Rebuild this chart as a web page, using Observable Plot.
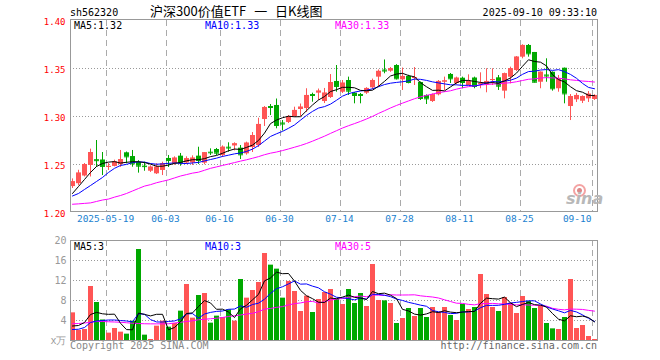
<!DOCTYPE html>
<html><head><meta charset="utf-8">
<script src="https://cdn.jsdelivr.net/npm/d3@7"></script>
<script src="https://cdn.jsdelivr.net/npm/@observablehq/plot@0.6"></script>
<style>
html,body{margin:0;padding:0;background:#fff;}
#wrap{position:relative;width:660px;height:360px;overflow:hidden;}
#wrap svg{position:absolute;left:0;}
</style></head><body><div id="wrap"></div>
<script>
const dates = ["2025-05-09","2025-05-12","2025-05-13","2025-05-14","2025-05-15","2025-05-16","2025-05-19","2025-05-20","2025-05-21","2025-05-22","2025-05-23","2025-05-26","2025-05-27","2025-05-28","2025-05-29","2025-05-30","2025-06-03","2025-06-04","2025-06-05","2025-06-06","2025-06-09","2025-06-10","2025-06-11","2025-06-12","2025-06-13","2025-06-16","2025-06-17","2025-06-18","2025-06-19","2025-06-20","2025-06-23","2025-06-24","2025-06-25","2025-06-26","2025-06-27","2025-06-30","2025-07-01","2025-07-02","2025-07-03","2025-07-04","2025-07-07","2025-07-08","2025-07-09","2025-07-10","2025-07-11","2025-07-14","2025-07-15","2025-07-16","2025-07-17","2025-07-18","2025-07-21","2025-07-22","2025-07-23","2025-07-24","2025-07-25","2025-07-28","2025-07-29","2025-07-30","2025-07-31","2025-08-01","2025-08-04","2025-08-05","2025-08-06","2025-08-07","2025-08-08","2025-08-11","2025-08-12","2025-08-13","2025-08-14","2025-08-15","2025-08-18","2025-08-19","2025-08-20","2025-08-21","2025-08-22","2025-08-25","2025-08-26","2025-08-27","2025-08-28","2025-08-29","2025-09-01","2025-09-02","2025-09-03","2025-09-04","2025-09-05","2025-09-08","2025-09-09","2025-09-10"];

const open = [1.227,1.230,1.238,1.249,1.255,1.2547,1.247,1.248,1.250,1.2622,1.2583,1.2521,1.2483,1.2430,1.2403,1.2438,1.2563,1.2509,1.2587,1.2516,1.2516,1.2587,1.2514,1.2628,1.2656,1.2594,1.2680,1.2693,1.2670,1.2611,1.2677,1.2698,1.2969,1.3104,1.3115,1.2932,1.2938,1.3000,1.3073,1.3083,1.3229,1.3243,1.3156,1.3198,1.3365,1.3253,1.3375,1.3243,1.3229,1.3243,1.3299,1.3410,1.3484,1.3472,1.3531,1.3382,1.3417,1.3396,1.3354,1.3219,1.3156,1.3226,1.3359,1.3438,1.3344,1.3399,1.3323,1.3401,1.3333,1.3330,1.3375,1.3403,1.3264,1.3409,1.3479,1.3618,1.3740,1.3667,1.3357,1.3432,1.3461,1.3289,1.3503,1.3104,1.3174,1.3159,1.3184,1.3177];
const high = [1.235,1.244,1.251,1.266,1.275,1.2625,1.251,1.2545,1.2646,1.263,1.2646,1.254,1.2524,1.2486,1.2507,1.2524,1.2594,1.258,1.2615,1.258,1.259,1.268,1.2625,1.2663,1.2667,1.2694,1.2726,1.2726,1.2698,1.2733,1.2833,1.2982,1.3104,1.3125,1.3182,1.2958,1.3010,1.3097,1.3130,1.3289,1.3243,1.3286,1.3292,1.3437,1.3531,1.3375,1.3410,1.3250,1.3240,1.3300,1.3390,1.3485,1.3589,1.3510,1.3540,1.3505,1.3430,1.3510,1.3360,1.3225,1.3235,1.3375,1.3410,1.3448,1.3410,1.3410,1.3434,1.3410,1.3455,1.3497,1.3497,1.3427,1.3452,1.3514,1.3625,1.3747,1.3750,1.3667,1.3465,1.3601,1.3465,1.3427,1.3505,1.3229,1.3240,1.3215,1.3260,1.3226];
const low = [1.225,1.228,1.237,1.237,1.247,1.2385,1.2438,1.2475,1.247,1.2507,1.2472,1.241,1.243,1.2417,1.2396,1.2385,1.2469,1.2492,1.2482,1.250,1.249,1.250,1.2497,1.2594,1.2594,1.2573,1.2628,1.2642,1.2552,1.2597,1.2625,1.2677,1.2896,1.3010,1.2872,1.2849,1.2927,1.2990,1.3000,1.3042,1.3149,1.3167,1.3135,1.3188,1.3253,1.3240,1.3219,1.3132,1.3132,1.3230,1.3280,1.3305,1.3445,1.3460,1.3380,1.3271,1.3340,1.3323,1.3167,1.3125,1.3146,1.3215,1.3271,1.3344,1.3330,1.3289,1.3320,1.3289,1.3289,1.3247,1.3323,1.3271,1.3184,1.3340,1.3469,1.3601,1.3618,1.3349,1.3289,1.3357,1.3264,1.3253,1.3132,1.2958,1.3146,1.3135,1.3146,1.3167];
const close = [1.232,1.241,1.250,1.2625,1.254,1.248,1.248,1.2526,1.255,1.258,1.2507,1.2483,1.2478,1.2472,1.2472,1.2507,1.2542,1.2566,1.2517,1.256,1.2566,1.2542,1.2622,1.2622,1.2618,1.268,1.2672,1.2715,1.2601,1.2722,1.2802,1.2917,1.3094,1.3094,1.2906,1.2922,1.300,1.3063,1.3097,1.3219,1.3219,1.3264,1.3243,1.3354,1.3313,1.3347,1.3264,1.3219,1.3219,1.3292,1.3375,1.347,1.3474,1.3497,1.3393,1.3417,1.3354,1.3406,1.3188,1.3184,1.3226,1.3365,1.337,1.3393,1.3399,1.3354,1.3365,1.3313,1.3344,1.3365,1.3385,1.3316,1.3445,1.3497,1.3618,1.374,1.3653,1.3357,1.3461,1.3422,1.3289,1.3393,1.3236,1.3208,1.3219,1.3208,1.3232,1.3219];

const ma5 = [1.2198,1.2271,1.2344,1.2417,1.2479,1.2511,1.2525,1.2530,1.2515,1.2523,1.2529,1.2529,1.2520,1.2504,1.2482,1.2482,1.2494,1.2512,1.2521,1.2538,1.2550,1.2550,1.2561,1.2582,1.2594,1.2617,1.2643,1.2661,1.2657,1.2678,1.2702,1.2751,1.2827,1.2926,1.2963,1.2987,1.3003,1.2997,1.2998,1.3060,1.3120,1.3172,1.3208,1.3260,1.3279,1.3304,1.3304,1.3299,1.3272,1.3268,1.3274,1.3315,1.3366,1.3422,1.3442,1.3450,1.3427,1.3413,1.3352,1.3310,1.3272,1.3274,1.3267,1.3308,1.3351,1.3376,1.3376,1.3365,1.3355,1.3348,1.3354,1.3345,1.3371,1.3402,1.3452,1.3523,1.3591,1.3573,1.3566,1.3527,1.3436,1.3384,1.3360,1.3310,1.3269,1.3253,1.3221,1.3217];
const ma10 = [1.2172,1.2198,1.2240,1.2281,1.2323,1.2365,1.2417,1.2460,1.2490,1.2501,1.2520,1.2527,1.2525,1.2510,1.2503,1.2506,1.2512,1.2516,1.2512,1.2510,1.2516,1.2522,1.2537,1.2552,1.2566,1.2584,1.2597,1.2611,1.2620,1.2636,1.2660,1.2697,1.2744,1.2792,1.2820,1.2845,1.2877,1.2912,1.2962,1.3011,1.3053,1.3088,1.3103,1.3129,1.3169,1.3212,1.3238,1.3254,1.3266,1.3273,1.3289,1.3310,1.3333,1.3347,1.3355,1.3362,1.3371,1.3390,1.3387,1.3376,1.3361,1.3350,1.3340,1.3330,1.3330,1.3324,1.3325,1.3316,1.3331,1.3349,1.3365,1.3360,1.3368,1.3378,1.3400,1.3439,1.3468,1.3472,1.3484,1.3489,1.3480,1.3488,1.3467,1.3438,1.3398,1.3345,1.3303,1.3289];
const ma30 = [1.2086,1.2090,1.2095,1.2100,1.2115,1.2130,1.2140,1.2160,1.2177,1.2198,1.2224,1.2250,1.2275,1.2290,1.2310,1.2325,1.2340,1.2360,1.2380,1.2395,1.2410,1.2420,1.2440,1.2460,1.2475,1.2490,1.2505,1.2520,1.2535,1.2549,1.2565,1.2582,1.2602,1.2618,1.2630,1.2645,1.2662,1.2680,1.2698,1.2719,1.2743,1.2769,1.2795,1.2824,1.2852,1.2880,1.2904,1.2926,1.2949,1.2974,1.3001,1.3032,1.3060,1.3089,1.3115,1.3139,1.3162,1.3185,1.3205,1.3220,1.3234,1.3249,1.3258,1.3268,1.3285,1.3299,1.3311,1.3320,1.3328,1.3333,1.3338,1.3340,1.3347,1.3352,1.3362,1.3375,1.3388,1.3392,1.3401,1.3405,1.3402,1.3399,1.3392,1.3382,1.3376,1.3369,1.3365,1.3359];

const volume = [5.53,2.0,2.2,10.8,7.6,4.1,1.47,2.4,1.67,1.27,3.87,18.2,1.07,0.2,2.87,3.87,2.67,3.4,5.87,11.2,4.47,9.0,9.4,3.47,4.87,4.6,6.13,3.87,12.2,8.47,10.0,11.6,17.4,15.07,14.27,8.47,11.8,9.8,5.8,8.87,5.6,8.2,9.6,10.2,8.2,7.2,10.2,7.4,9.4,6.8,15.2,8.0,7.93,7.4,3.4,4.4,6.4,4.8,6.4,4.6,6.6,5.6,6.6,5.0,4.0,7.2,6.2,6.6,13.2,9.2,6.6,5.8,8.6,7.47,5.4,8.8,7.8,6.4,7.0,3.4,2.33,2.2,4.6,12.2,2.4,3.0,0.8,0.2];
const vma5 = [2.9,3.0,3.6,5.2,5.63,5.34,5.23,5.27,3.45,2.18,2.14,5.48,5.22,4.92,5.24,5.24,2.14,2.60,3.74,5.40,5.52,6.79,7.99,7.51,6.24,6.27,5.69,4.59,6.33,7.05,8.13,9.23,11.93,12.51,13.67,13.36,13.40,11.88,10.03,8.95,8.37,7.65,7.61,8.49,8.36,8.68,9.08,8.64,8.48,8.20,9.80,9.36,9.47,9.07,8.39,6.23,5.91,5.28,5.08,5.32,5.76,5.60,5.96,5.68,5.56,5.68,5.80,5.80,7.44,8.48,8.36,8.28,8.68,7.53,6.77,7.21,7.61,7.17,7.08,6.68,5.39,4.27,3.91,4.95,4.75,4.88,4.60,3.72];
const vma10 = [2.2,2.25,2.6,3.6,3.9,4.0,4.1,4.1,4.0,3.90,3.74,5.36,5.25,4.19,3.71,3.69,3.81,3.91,4.33,5.32,5.38,4.46,5.30,5.62,5.82,5.90,6.24,6.29,6.92,6.65,7.20,7.46,8.26,9.42,10.36,10.75,11.32,11.91,11.27,11.31,10.87,10.53,9.75,9.26,8.65,8.53,8.37,8.13,8.49,8.28,9.24,9.22,9.05,8.77,8.29,8.01,7.63,7.37,7.07,6.85,5.99,5.75,5.62,5.38,5.44,5.72,5.70,5.88,6.56,7.02,7.02,7.04,7.24,7.49,7.63,7.79,7.95,7.93,7.31,6.73,6.30,5.94,5.54,6.01,5.71,5.13,4.43,3.81];
const vma30 = [3.35,3.40,3.50,3.65,3.80,3.80,3.75,3.70,3.65,3.55,3.45,3.40,3.35,3.33,3.33,3.33,3.35,3.50,3.65,3.80,3.95,4.15,4.25,4.35,4.45,4.60,4.80,4.95,5.10,5.29,5.44,5.76,6.27,6.41,6.63,6.78,7.12,7.37,7.51,7.76,7.82,7.48,7.77,8.10,8.28,8.39,8.64,8.77,8.89,8.75,9.10,9.07,9.02,9.15,9.10,9.10,9.11,9.14,8.94,8.81,8.70,8.50,8.14,7.80,7.46,7.42,7.23,7.13,7.37,7.38,7.42,7.34,7.30,7.21,7.12,7.17,7.09,7.06,6.98,6.87,6.44,6.24,6.13,6.29,6.26,6.21,6.03,5.87];

const tickDates = ["2025-05-19","2025-06-03","2025-06-16","2025-06-30","2025-07-14","2025-07-28","2025-08-11","2025-08-25","2025-09-10"];
const tickLabels = ["2025-05-19","06-03","06-16","06-30","07-14","07-28","08-11","08-25","09-10"];
const priceTicks = [1.20,1.25,1.30,1.35,1.40];
const priceGrid = [1.25,1.30,1.35];
const volTicks = [0,4,8,12,16,20];
const volTickLabels = ["x万","4","8","12","16","20"];
const volGrid = [4,8,12,16];
const priceLegend = ["MA5:1.32","MA10:1.33","MA30:1.33"];
const volLegend = ["MA5:3","MA10:3","MA30:5"];
const headerCode = "sh562320";
const headerTitle = "沪深300价值ETF 一 日K线图";
const headerTime = "2025-09-10 09:33:10";
const footerLeft = "Copyright 2025 SINA.COM";
const footerRight = "http://finance.sina.com.cn";

const UP = "#ff5555", DOWN = "#00a800";
const MONO = "'DejaVu Sans Mono', monospace";
const rows = dates.map((d, i) => ({
  date: d, open: open[i], high: high[i], low: low[i], close: close[i], volume: volume[i],
  ma5: ma5[i], ma10: ma10[i], ma30: ma30[i], vma5: vma5[i], vma10: vma10[i], vma30: vma30[i],
  color: close[i] >= open[i] ? UP : DOWN
}));

const wrap = document.getElementById("wrap");
const xScale = {type: "band", domain: dates, padding: 0, axis: null};
const commonStyle = {fontFamily: MONO, fontSize: "10px", background: "transparent", overflow: "visible"};

const price = Plot.plot({
  width: 660, height: 232,
  marginLeft: 70, marginRight: 62, marginTop: 20, marginBottom: 20,
  x: xScale,
  y: {domain: [1.2, 1.4], axis: null},
  color: {type: "identity"},
  style: commonStyle,
  marks: [
    Plot.ruleY(priceGrid, {y: d => d, stroke: "#999", strokeDasharray: "1,2"}),
    Plot.ruleX(tickDates, {x: d => d, dx: -3, stroke: "#aaa", strokeDasharray: "6,4"}),
    Plot.ruleX(rows, {x: "date", y1: "low", y2: "high", stroke: "color", dx: -1}),
    Plot.barY(rows, {x: "date", y1: "open", y2: "close", fill: "color", insetRight: 1}),
    Plot.tickY(rows, {x: "date", y: "close", stroke: "color", insetRight: 1}),
    Plot.line(rows, {x: "date", y: "ma30", stroke: "#ff00ff", strokeWidth: 1, dx: -1}),
    Plot.line(rows, {x: "date", y: "ma10", stroke: "#0000ff", strokeWidth: 1, dx: -1}),
    Plot.line(rows, {x: "date", y: "ma5", stroke: "#000000", strokeWidth: 1, dx: -1}),
    Plot.text(priceTicks, {y: d => d, text: d => d.toFixed(2), frameAnchor: "left", textAnchor: "end", dx: -5, dy: 2, fill: "#ff0000", fontSize: 9}),
    Plot.text(tickDates.slice(0, -1), {x: d => d, text: (d, i) => tickLabels[i], frameAnchor: "bottom", dx: -4, dy: 9.3, fill: "#1a7fd0", fontSize: 9.5}),
    Plot.text(tickDates.slice(-1), {x: d => d, text: () => tickLabels[tickLabels.length - 1], frameAnchor: "bottom", textAnchor: "end", dx: -4, dy: 9.3, fill: "#1a7fd0", fontSize: 9.5}),
    Plot.frame({stroke: "#999", insetRight: 1, insetTop: -1, insetBottom: 1})
  ]
});
price.style.top = "0px";
wrap.appendChild(price);

const vol = Plot.plot({
  width: 660, height: 128,
  marginLeft: 70, marginRight: 62, marginTop: 8, marginBottom: 20,
  x: xScale,
  y: {domain: [0, 20], axis: null},
  color: {type: "identity"},
  style: commonStyle,
  marks: [
    Plot.ruleY(volGrid, {y: d => d, stroke: "#999", strokeDasharray: "1,2"}),
    Plot.ruleX(tickDates, {x: d => d, dx: -3, stroke: "#aaa", strokeDasharray: "6,4"}),
    Plot.barY(rows, {x: "date", y: "volume", fill: "color", insetRight: 1}),
    Plot.line(rows, {x: "date", y: "vma30", stroke: "#ff00ff", strokeWidth: 1, dx: -1}),
    Plot.line(rows, {x: "date", y: "vma10", stroke: "#0000ff", strokeWidth: 1, dx: -1}),
    Plot.line(rows, {x: "date", y: "vma5", stroke: "#000000", strokeWidth: 1, dx: -1}),
    Plot.text(volTicks, {y: d => d, text: (d, i) => volTickLabels[i], frameAnchor: "left", textAnchor: "end", dx: -4, dy: 0.5, fill: "#999", fontSize: 10}),
    Plot.frame({stroke: "#999", insetRight: 1})
  ]
});
vol.style.top = "232px";
wrap.appendChild(vol);

function label(txt, o) {
  const el = document.createElement("div");
  el.textContent = txt;
  const size = o.size || 10;
  const asc = o.asc || 0.846;
  el.style.position = "absolute";
  el.style.whiteSpace = "pre";
  el.style.fontFamily = o.family || MONO;
  el.style.fontSize = size + "px";
  el.style.lineHeight = size + "px";
  el.style.color = o.color || "#000";
  el.style.top = (o.baseline - asc * size).toFixed(2) + "px";
  if (o.right != null) el.style.right = (660 - o.right) + "px"; else el.style.left = o.left + "px";
  if (o.weight) el.style.fontWeight = o.weight;
  if (o.italic) el.style.fontStyle = "italic";
  if (o.wordSpacing) el.style.wordSpacing = o.wordSpacing + "px";
  wrap.appendChild(el);
  return el;
}

label(headerCode, {left: 70, baseline: 16});
label(headerTitle, {left: 150, baseline: 16.5, size: 13, family: "'Noto Sans CJK SC', sans-serif", asc: 0.937, wordSpacing: 5});
label(headerTime, {right: 597, baseline: 16});
const legendX = [74, 205, 335];
const legendColor = ["#000", "#0000ff", "#ff00ff"];
priceLegend.forEach((t, i) => label(t, {left: legendX[i], baseline: 29.3, color: legendColor[i]}));
volLegend.forEach((t, i) => label(t, {left: legendX[i], baseline: 250, color: legendColor[i]}));
label(footerLeft, {left: 70, baseline: 349.5, color: "#888"});
label(footerRight, {right: 597, baseline: 349.5, color: "#666"});

// sina watermark
const eye = document.createElement("div");
eye.style.cssText = "position:absolute;left:573px;top:184px;width:9px;height:9px;border:2px solid #f4a3a3;border-radius:50%;background:radial-gradient(circle,#d88 0 2px,transparent 3px);";
wrap.appendChild(eye);
label("sina", {left: 566, baseline: 206, size: 16, family: "'DejaVu Sans', sans-serif", color: "#b8b8b8", weight: "bold", italic: true, asc: 0.93});
</script>
</body></html>
